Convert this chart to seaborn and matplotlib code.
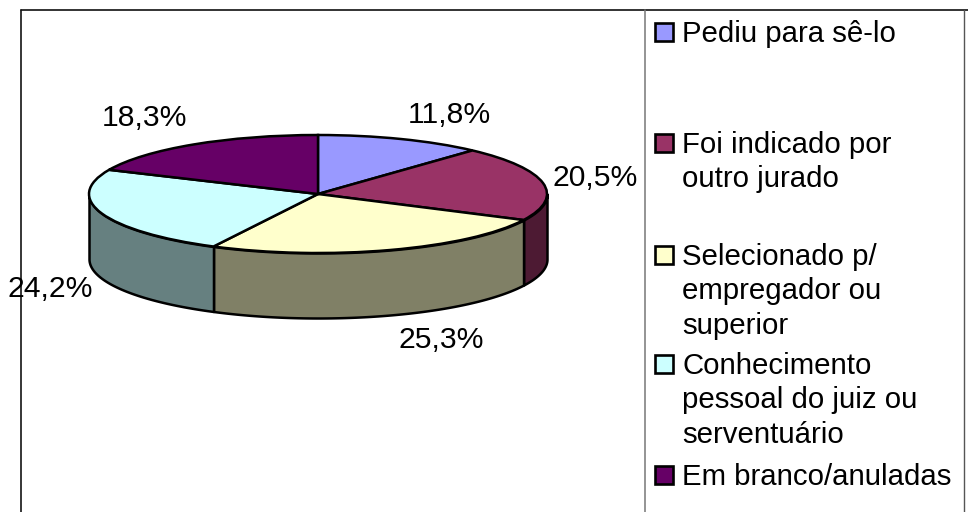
import numpy as np
import matplotlib.pyplot as plt
import seaborn as sns
from matplotlib.patches import Rectangle

# Data
categories = [
    "Pediu para sê-lo",
    "Foi indicado por\noutro jurado",
    "Selecionado p/\nempregador ou\nsuperior",
    "Conhecimento\npessoal do juiz ou\nserventuário",
    "Em branco/anuladas",
]
values = [11.8, 20.5, 25.3, 24.2, 18.3]
colors = ["#9999FF", "#993366", "#FFFFCC", "#CCFFFF", "#660066"]

W, H = 968, 512

sns.set_theme(style="white")
plt.rcParams["font.family"] = ["Liberation Sans", "DejaVu Sans"]

fig = plt.figure(figsize=(W / 100, H / 100), dpi=100, facecolor="white")

# Overlay in pixel coords for frame, labels, legend
bg = fig.add_axes([0, 0, 1, 1], zorder=3)
bg.set_xlim(0, W)
bg.set_ylim(H, 0)
bg.axis("off")
bg.patch.set_alpha(0)

# Pie axes: 1 unit = 229 px across, 59 px down, centre at (318, 194)
ax = fig.add_axes([0, 0, 1, 1], zorder=1)
palette = sns.color_palette(colors)
wedges, _ = ax.pie(values, colors=palette, startangle=90, counterclock=False,
                   wedgeprops=dict(edgecolor="black", linewidth=1.8, zorder=3))
ax.set_aspect("auto")
ax.set_xlim(-318 / 229, (W - 318) / 229)
ax.set_ylim((194 - H) / 59, 194 / 59)

# Side wall of the disc, half brightness of the slice colour
depth = 65 / 59
for w, c in zip(wedges, palette):
    lo, hi = max(w.theta1, -180), min(w.theta2, 0)
    if lo >= hi:
        continue
    t = np.radians(np.linspace(lo, hi, 100))
    side = tuple(np.array(c) * 0.5)
    ax.fill_between(np.cos(t), np.sin(t), np.sin(t) - depth, facecolor=side,
                    edgecolor="black", linewidth=1.8, zorder=2)

# Frame
bg.plot([21, 21], [10, H], color="black", lw=1.1)
bg.plot([21, W], [9.5, 9.5], color="#111111", lw=1.2)
bg.plot([645, 645], [10, H], color="#777777", lw=1.1)
bg.plot([963.5, 963.5], [10, H], color="#555555", lw=1.0)

# Value labels
label_x = [449, 595, 441, 50, 144]
label_y = [115, 178, 340, 289, 118]
for v, x, y in zip(values, label_x, label_y):
    bg.text(x, y, f"{v:.1f}%".replace(".", ","), ha="center", va="center",
            fontsize=21.7, color="black")

# Legend
legend_y = [32, 143, 255, 364, 475]
for name, c, y in zip(categories, palette, legend_y):
    bg.add_patch(Rectangle((655, y - 9), 18, 18, facecolor=c, edgecolor="black", lw=1.9))
    bg.text(682, y - 12, name, ha="left", va="top", fontsize=21.2, color="black",
            linespacing=1.29)

fig.savefig("out.png", dpi=100)
